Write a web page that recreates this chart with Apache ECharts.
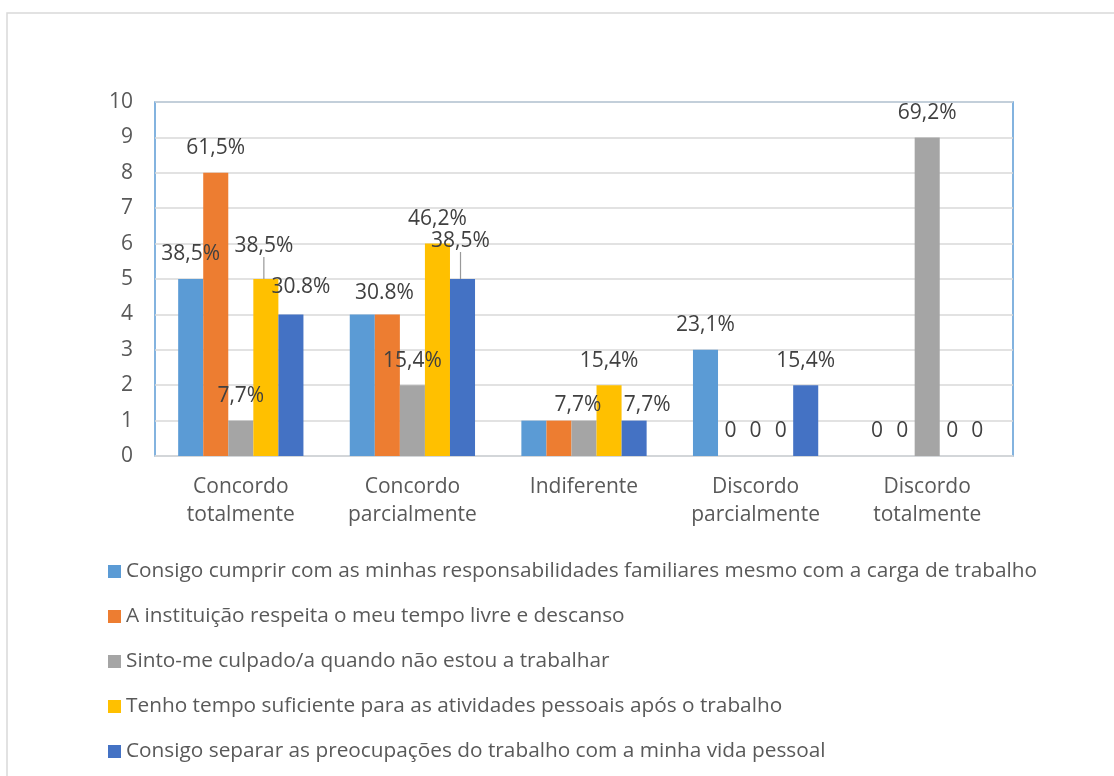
<!DOCTYPE html>
<html>
<head>
<meta charset="utf-8">
<script src="https://cdn.jsdelivr.net/npm/echarts@6/dist/echarts.min.js"></script>
<style>
  html, body { margin: 0; padding: 0; background: #fff; }
  #chart { width: 1114px; height: 776px; }
</style>
</head>
<body>
<div id="chart"></div>
<script>
const categories = ["Concordo\ntotalmente", "Concordo\nparcialmente", "Indiferente", "Discordo\nparcialmente", "Discordo\ntotalmente"];
const seriesNames = [
  "Consigo cumprir com as minhas responsabilidades familiares mesmo com a carga de trabalho",
  "A instituição respeita o meu tempo livre e descanso",
  "Sinto-me culpado/a quando não estou a trabalhar",
  "Tenho tempo suficiente para as atividades pessoais após o trabalho",
  "Consigo separar as preocupações do trabalho com a minha vida pessoal"
];
const familiares = [5, 4, 1, 3, 0];
const respeita = [8, 4, 1, 0, 0];
const culpado = [1, 2, 1, 0, 9];
const tempoPessoal = [5, 6, 2, 0, 0];
const separar = [4, 5, 1, 2, 0];

// texts shown on the bars ('' = no label visible)
const familiaresLabels = ["38,5%", "", "", "23,1%", "0"];
const respeitaLabels = ["61,5%", "30.8%", "", "0", "0"];
const culpadoLabels = ["7,7%", "15,4%", "7,7%", "0", "69,2%"];
const tempoPessoalLabels = ["38,5%", "46,2%", "15,4%", "0", "0"];
const separarLabels = ["30.8%", "38,5%", "7,7%", "15,4%", "0"];

const colors = ["#5B9BD5", "#ED7D31", "#A5A5A5", "#FFC000", "#4472C4"];
const FONT = "Open Sans";
const TEXT = "#595959";

// labels that Excel moved by hand: "series-index" -> [dx, dy, leader line]
const moved = {
  "3-0": [-2, -8, true],
  "4-0": [10, -3, false],
  "1-1": [-3, 3, false],
  "4-1": [-2, -13, true],
  "2-2": [-6, 9, false],
  "4-2": [13, 9, false]
};

const values = [familiares, respeita, culpado, tempoPessoal, separar];
const texts = [familiaresLabels, respeitaLabels, culpadoLabels, tempoPessoalLabels, separarLabels];

const chart = echarts.init(document.getElementById("chart"));

const series = values.map((vals, s) => ({
  name: seriesNames[s],
  type: "bar",
  barGap: "0%",
  barCategoryGap: "27%",
  itemStyle: { color: colors[s] },
  data: vals.map((v, i) => {
    const m = moved[s + "-" + i];
    return {
      value: v,
      labelLine: { show: !!(m && m[2]), lineStyle: { color: "#999", width: 1.2 } }
    };
  }),
  label: {
    show: true,
    position: "top",
    distance: 14,
    fontFamily: FONT,
    fontSize: 21,
    color: "#404040",
    formatter: (p) => texts[s][p.dataIndex]
  },
  labelLine: { show: false, lineStyle: { color: "#999", width: 1.2 } },
  labelLayout: (p) => {
    const m = moved[s + "-" + p.dataIndex];
    return m ? { dx: m[0], dy: m[1] } : {};
  }
}));

const option = {
  animation: false,
  color: colors,
  textStyle: { fontFamily: FONT },
  graphic: [{
    type: "rect",
    shape: { x: 7, y: 13, width: 1200, height: 900 },
    style: { fill: "none", stroke: "#D9D9D9", lineWidth: 1.5 },
    silent: true
  }],
  grid: {
    left: 155,
    top: 102,
    right: 101,
    bottom: 320,
    show: true,
    borderColor: "#5B9BD5",
    borderWidth: 1.5
  },
  legend: {
    orient: "vertical",
    left: 103,
    top: 556,
    icon: "rect",
    itemWidth: 13,
    itemHeight: 13,
    itemGap: 24,
    textStyle: { fontFamily: FONT, fontSize: 20.8, color: TEXT, lineHeight: 21 },
    data: seriesNames
  },
  xAxis: {
    type: "category",
    data: categories,
    axisLine: { lineStyle: { color: "#D9D9D9", width: 1.5 } },
    axisTick: { show: false },
    axisLabel: {
      interval: 0,
      margin: 17,
      fontFamily: FONT,
      fontSize: 21,
      lineHeight: 28,
      color: TEXT
    }
  },
  yAxis: {
    type: "value",
    min: 0,
    max: 10,
    interval: 1,
    axisLine: { show: false },
    axisTick: { show: false },
    splitLine: { lineStyle: { color: "#D9D9D9", width: 1.5 } },
    axisLabel: { margin: 22, fontFamily: FONT, fontSize: 21, color: TEXT }
  },
  series
};

chart.setOption(option);
</script>
</body>
</html>
